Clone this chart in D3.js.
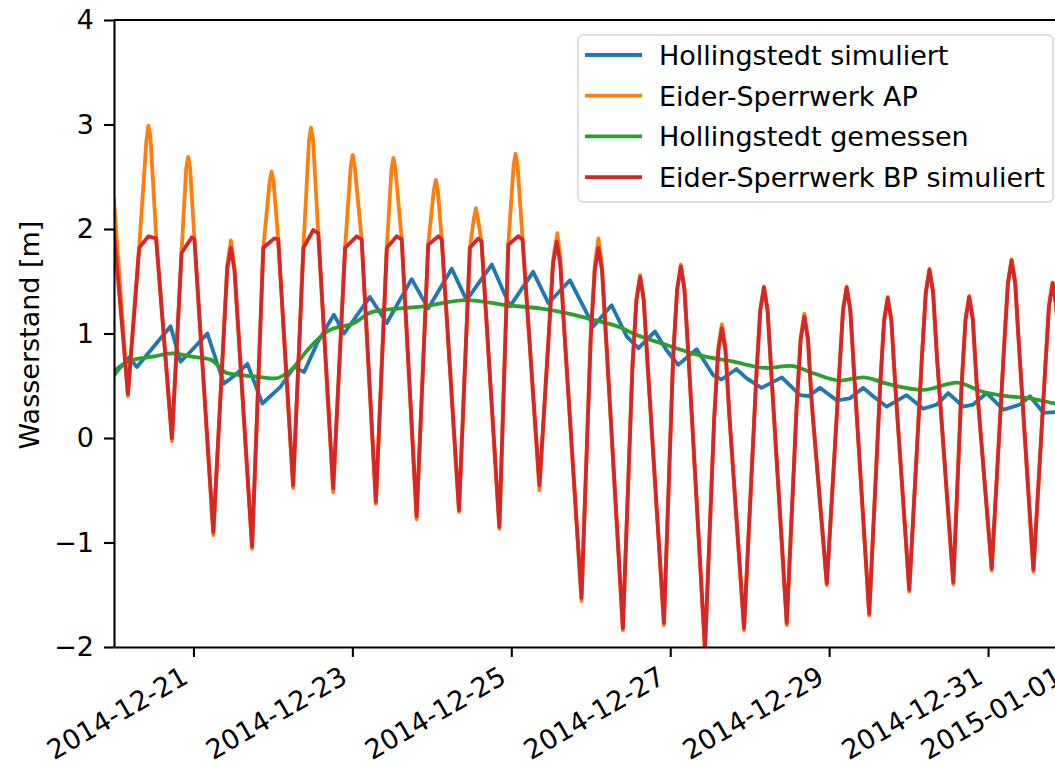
<!DOCTYPE html>
<html>

<head>
    <meta charset="UTF-8">
    <title>Wasserstand Eider / Hollingstedt</title>
    <script src="https://cdnjs.cloudflare.com/ajax/libs/d3/7.8.5/d3.min.js"></script>
    <style>
        body {
            margin: 0;
            background: #ffffff;
        }

        svg {
            display: block;
            font-family: "DejaVu Sans", sans-serif;
        }

        .axis text {
            font-family: "DejaVu Sans", sans-serif;
            font-size: 27px;
            fill: #000000;
        }

        .axis path,
        .axis line {
            stroke: #000000;
            stroke-width: 2.1;
        }
    </style>
</head>

<body>
    <svg id="chart" width="1055" height="767"></svg>
    <script>
        // Zeitachse: Stunden seit 2014-12-20 00:00
        var startDate = "2014-12-20";
        var endHour = 289;
        var xTickLabels = ["2014-12-21", "2014-12-23", "2014-12-25", "2014-12-27", "2014-12-29", "2014-12-31", "2015-01-01"];
        var yTicks = [-2, -1, 0, 1, 2, 3, 4];
        var yLabel = "Wasserstand [m]";
        var seriesNames = ["Hollingstedt simuliert", "Eider-Sperrwerk AP", "Hollingstedt gemessen", "Eider-Sperrwerk BP simuliert"];
        var seriesColors = ["#1f77b4", "#ff7f0e", "#2ca02c", "#d62728"];

        // [stunde, wasserstand]
        var hollingstedtSim = [
            [0, 0.64], [3.3, 0.72], [4.5, 0.77], [6.9, 0.68], [17.1, 1.07], [20.1, 0.73], [23.2, 0.83],
            [28.2, 1.0], [33.2, 0.52], [36.5, 0.6], [40.3, 0.71], [44.8, 0.33], [50.3, 0.49], [54.4, 0.68],
            [57.4, 0.63], [61.4, 0.91], [66.4, 1.18], [69.5, 1.0], [77.3, 1.35], [82.4, 1.1], [89.9, 1.52],
            [94.9, 1.24], [102.0, 1.62], [106.5, 1.32], [114.1, 1.66], [119.6, 1.26], [126.6, 1.59],
            [131.2, 1.29], [137.7, 1.51], [144.8, 1.07], [150.3, 1.27], [154.9, 0.97], [158.4, 0.86],
            [163.4, 1.02], [166.9, 0.84], [170.4, 0.7], [176.0, 0.85], [181.0, 0.6], [183.5, 0.56],
            [188.0, 0.66], [191.1, 0.57], [195.6, 0.48], [201.7, 0.58], [207.2, 0.41], [209.7, 0.4],
            [213.2, 0.48], [218.3, 0.36], [222.3, 0.38], [226.3, 0.48], [229.3, 0.4], [233.4, 0.3],
            [239.4, 0.41], [244.4, 0.28], [248.5, 0.32], [252.0, 0.43], [256.5, 0.3], [259.5, 0.32],
            [263.6, 0.43], [268.6, 0.27], [273.6, 0.32], [276.7, 0.4], [280.7, 0.24], [285.7, 0.25], [289, 0.26]
        ];

        var eiderAP = [
            [0, 2.28], [4.2, 0.4],
            [7.6, 1.82], [9.8, 2.85], [10.4, 2.99], [11.0, 2.88], [12.8, 1.9], [17.5, -0.03],
            [20.4, 1.77], [21.8, 2.58], [22.4, 2.69], [23.0, 2.58], [24.3, 1.9], [30.0, -0.93],
            [34.2, 1.65], [35.3, 1.89], [36.4, 1.63], [41.7, -1.06],
            [45.1, 1.82], [47.0, 2.45], [47.6, 2.55], [48.2, 2.45], [49.6, 1.9], [54.1, -0.48],
            [57.2, 1.82], [58.9, 2.85], [59.5, 2.97], [60.1, 2.86], [61.7, 1.96], [66.2, -0.52],
            [69.8, 1.82], [71.5, 2.6], [72.1, 2.71], [72.7, 2.6], [74.8, 1.9], [79.1, -0.63],
            [82.4, 1.82], [83.8, 2.57], [84.4, 2.68], [85.0, 2.57], [86.9, 1.9], [91.4, -0.78],
            [94.9, 1.85], [96.6, 2.37], [97.2, 2.47], [97.8, 2.37], [99.0, 1.9], [104.2, -0.71],
            [107.5, 1.82], [108.7, 2.1], [109.3, 2.2], [109.9, 2.1], [111.0, 1.88], [116.4, -0.87],
            [119.1, 1.85], [120.7, 2.61], [121.3, 2.72], [121.9, 2.61], [123.4, 1.9], [128.5, -0.5],
            [131.4, 1.03], [132.6, 1.7], [133.9, 1.96], [134.8, 1.72], [136.0, 1.03], [141.2, -1.56],
            [144.0, 0.97], [145.2, 1.65], [146.3, 1.91], [147.4, 1.65], [148.6, 0.97], [153.7, -1.84],
            [156.6, 0.69], [157.8, 1.33], [158.9, 1.56], [160.0, 1.33], [161.2, 0.69], [166.1, -1.79],
            [168.9, 0.79], [170.1, 1.43], [171.2, 1.66], [172.3, 1.43], [173.5, 0.79], [178.5, -2.04],
            [181.3, 0.2], [182.5, 0.86], [183.6, 1.09], [184.7, 0.86], [185.9, 0.2], [190.3, -1.84],
            [194.0, 0.59], [195.2, 1.23], [196.3, 1.45], [197.4, 1.23], [198.6, 0.59], [203.2, -1.79],
            [206.2, 0.31], [207.4, 0.96], [208.5, 1.19], [209.6, 0.96], [210.8, 0.31], [215.3, -1.41],
            [219.0, 0.59], [220.2, 1.23], [221.3, 1.45], [222.4, 1.23], [223.6, 0.59], [228.1, -1.7],
            [231.4, 0.49], [232.6, 1.13], [233.7, 1.35], [234.8, 1.13], [236.0, 0.49], [240.2, -1.47],
            [244.0, 0.76], [245.2, 1.4], [246.3, 1.62], [247.4, 1.4], [248.6, 0.76], [253.5, -1.4],
            [256.0, 0.5], [257.2, 1.14], [258.3, 1.36], [259.4, 1.14], [260.6, 0.5], [265.1, -1.27],
            [268.8, 0.85], [270.0, 1.49], [271.1, 1.71], [272.2, 1.49], [273.4, 0.85], [277.7, -1.28],
            [281.2, 0.63], [282.4, 1.27], [283.5, 1.49], [284.6, 1.27], [285.8, 0.63], [289, -0.97]
        ];

        var hollingstedtMess = [
            [0, 0.6], [4.0, 0.73], [12.1, 0.78], [17.6, 0.81], [23.2, 0.78], [29.2, 0.75], [34.2, 0.62],
            [42.3, 0.59], [48.3, 0.57], [53.4, 0.65], [58.4, 0.84], [64.4, 1.02], [72.5, 1.1], [78.3, 1.21],
            [93.4, 1.26], [106.5, 1.32], [118.6, 1.27], [128.7, 1.24], [138.7, 1.18], [144.8, 1.13],
            [152.8, 1.06], [156.8, 1.0], [166.9, 0.89], [177.0, 0.79], [187.1, 0.73], [197.1, 0.67],
            [204.2, 0.69], [211.2, 0.62], [219.3, 0.55], [226.3, 0.58], [233.4, 0.52], [244.4, 0.46],
            [254.5, 0.53], [262.6, 0.44], [269.6, 0.4], [276.7, 0.38], [284.2, 0.33], [289, 0.31]
        ];

        var eiderBP = [
            [0, 1.97], [4.2, 0.42],
            [7.6, 1.82], [10.4, 1.93], [12.7, 1.91], [17.5, 0.0],
            [20.4, 1.77], [23.5, 1.92], [24.3, 1.9], [30.0, -0.9],
            [34.2, 1.62], [35.3, 1.82], [36.4, 1.6], [41.7, -1.04],
            [45.1, 1.82], [48.4, 1.91], [49.6, 1.9], [54.1, -0.45],
            [57.2, 1.82], [60.2, 1.99], [61.7, 1.96], [66.2, -0.48],
            [69.8, 1.82], [73.3, 1.93], [74.8, 1.9], [79.1, -0.61],
            [82.4, 1.82], [85.4, 1.93], [86.9, 1.9], [91.4, -0.75],
            [94.9, 1.85], [98.0, 1.93], [99.0, 1.9], [104.2, -0.69],
            [107.5, 1.82], [110.0, 1.91], [111.0, 1.88], [116.4, -0.85],
            [119.1, 1.85], [122.1, 1.93], [123.4, 1.9], [128.5, -0.45],
            [131.4, 1.03], [132.6, 1.66], [133.7, 1.88], [134.8, 1.66], [136.0, 1.03], [141.2, -1.53],
            [144.0, 0.97], [145.2, 1.6], [146.3, 1.82], [147.4, 1.6], [148.6, 0.97], [153.7, -1.82],
            [156.6, 0.69], [157.8, 1.32], [158.9, 1.54], [160.0, 1.32], [161.2, 0.69], [166.1, -1.77],
            [168.9, 0.79], [170.1, 1.42], [171.2, 1.64], [172.3, 1.42], [173.5, 0.79], [178.5, -2.02],
            [181.3, 0.2], [182.5, 0.83], [183.6, 1.05], [184.7, 0.83], [185.9, 0.2], [190.3, -1.82],
            [194.0, 0.59], [195.2, 1.22], [196.3, 1.44], [197.4, 1.22], [198.6, 0.59], [203.2, -1.77],
            [206.2, 0.31], [207.4, 0.94], [208.5, 1.16], [209.6, 0.94], [210.8, 0.31], [215.3, -1.39],
            [219.0, 0.59], [220.2, 1.22], [221.3, 1.44], [222.4, 1.22], [223.6, 0.59], [228.1, -1.68],
            [231.4, 0.49], [232.6, 1.12], [233.7, 1.34], [234.8, 1.12], [236.0, 0.49], [240.2, -1.45],
            [244.0, 0.76], [245.2, 1.39], [246.3, 1.61], [247.4, 1.39], [248.6, 0.76], [253.5, -1.38],
            [256.0, 0.5], [257.2, 1.13], [258.3, 1.35], [259.4, 1.13], [260.6, 0.5], [265.1, -1.25],
            [268.8, 0.85], [270.0, 1.48], [271.1, 1.7], [272.2, 1.48], [273.4, 0.85], [277.7, -1.26],
            [281.2, 0.63], [282.4, 1.26], [283.5, 1.48], [284.6, 1.26], [285.8, 0.63], [289, -0.95]
        ];

        var allSeries = [hollingstedtSim, eiderAP, hollingstedtMess, eiderBP];

        var parseDay = d3.utcParse("%Y-%m-%d");
        var t0 = parseDay(startDate);
        var toDate = h => new Date(t0.getTime() + h * 3600 * 1000);

        var plotLeft = 114, plotTop = 20, plotBottom = 647;
        var plotRight = plotLeft + endHour * 79.46 / 24;

        var x = d3.scaleUtc()
            .domain([t0, toDate(endHour)])
            .range([plotLeft, plotRight]);

        var y = d3.scaleLinear()
            .domain([-2, 4])
            .range([plotBottom, plotTop]);

        var svg = d3.select("#chart");

        svg.append("clipPath")
            .attr("id", "plotClip")
            .append("rect")
            .attr("x", plotLeft)
            .attr("y", plotTop)
            .attr("width", plotRight - plotLeft)
            .attr("height", plotBottom - plotTop);

        var line = d3.line()
            .x(d => x(toDate(d[0])))
            .y(d => y(d[1]));

        var smoothLine = d3.line()
            .curve(d3.curveMonotoneX)
            .x(d => x(toDate(d[0])))
            .y(d => y(d[1]));

        svg.append("g")
            .attr("clip-path", "url(#plotClip)")
            .selectAll("path.series")
            .data(allSeries)
            .enter()
            .append("path")
            .attr("class", "series")
            .attr("fill", "none")
            .attr("stroke", (d, i) => seriesColors[i])
            .attr("stroke-width", 3.8)
            .attr("stroke-linejoin", "round")
            .attr("stroke-linecap", "square")
            .attr("d", (d, i) => i === 2 ? smoothLine(d) : line(d));

        // Achsen
        var xAxis = svg.append("g")
            .attr("class", "axis")
            .attr("transform", `translate(0,${plotBottom})`)
            .call(d3.axisBottom(x)
                .tickValues(xTickLabels.map(parseDay))
                .tickFormat(d3.utcFormat("%Y-%m-%d"))
                .tickSize(10)
                .tickSizeOuter(0));

        xAxis.selectAll(".tick text")
            .attr("y", null)
            .attr("dy", null)
            .attr("text-anchor", "end")
            .attr("transform", "translate(-4,35) rotate(-30)");

        svg.append("g")
            .attr("class", "axis")
            .attr("transform", `translate(${plotLeft},0)`)
            .call(d3.axisLeft(y)
                .tickValues(yTicks)
                .tickFormat(d3.format("d"))
                .tickSize(10)
                .tickPadding(10)
                .tickSizeOuter(0));

        svg.append("line")
            .attr("x1", plotLeft)
            .attr("x2", plotRight)
            .attr("y1", plotTop)
            .attr("y2", plotTop)
            .style("stroke", "#000000")
            .style("stroke-width", 2.1);

        svg.append("text")
            .attr("transform", `translate(38.5,335) rotate(-90)`)
            .attr("text-anchor", "middle")
            .style("font-size", "27px")
            .text(yLabel);

        // Legende
        var legend = svg.append("g")
            .attr("transform", "translate(578,35)");

        legend.append("rect")
            .attr("width", 475)
            .attr("height", 167)
            .attr("rx", 5)
            .style("fill", "#ffffff")
            .style("fill-opacity", 0.8)
            .style("stroke", "#d5d5d5")
            .style("stroke-width", 1.5);

        var legendRow = legend.selectAll("g.row")
            .data(seriesNames)
            .enter()
            .append("g")
            .attr("class", "row")
            .attr("transform", (d, i) => `translate(0,${20 + i * 40.7})`);

        legendRow.append("line")
            .attr("x1", 7)
            .attr("x2", 64)
            .style("stroke", (d, i) => seriesColors[i])
            .style("stroke-width", 3.8);

        legendRow.append("text")
            .attr("x", 81)
            .attr("y", 10)
            .style("font-size", "27px")
            .text(d => d);
    </script>
</body>

</html>
